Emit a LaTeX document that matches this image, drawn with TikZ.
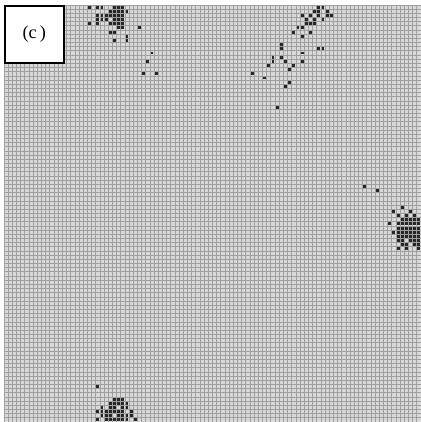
\documentclass[tikz,border=0pt]{standalone}
\usepackage{fontspec}
\setmainfont{Liberation Serif}

\begin{document}
\begin{tikzpicture}[x=1.0425mm, y=-1.0425mm,
    gridline/.style={gray!75, line width=0.55pt},
    alive/.style={fill=black!85},
    labelbox/.style={draw=black, line width=1.3pt, fill=white, minimum width=14.7mm,
      minimum height=14.3mm, font=\fontsize{13}{15}\selectfont}]
    \useasboundingbox (-0.96,-1.2) rectangle (100,100);
    % lattice
    \fill[gray!30] (0,0) rectangle (100,100);
    \foreach \i in {0,...,100} {
      \draw[gridline] (\i,0) -- (\i,100);
      \draw[gridline] (0,\i) -- (100,\i);
    }
    % cluster top left
    \foreach \c/\r in {20/0,22/0,23/0,26/0,27/0,28/0,
      25/1,26/1,27/1,28/1,29/1,
      22/2,23/2,24/2,25/2,26/2,27/2,28/2,
      22/3,23/3,24/3,26/3,27/3,28/3,
      20/4,22/4,25/4,26/4,27/4,28/4,
      27/5,28/5,32/5,25/6,26/6,29/7,26/8,29/8,
      35/11,34/13,33/16,36/16}
      \fill[alive] (\c+0.15,\r+0.15) rectangle (\c+0.85,\r+0.85);
    % cluster top right
    \foreach \c/\r in {75/0,76/0,74/1,75/1,77/1,
      71/2,73/2,75/2,77/2,78/2,72/3,74/3,76/3,72/4,73/4,74/4,
      70/5,71/5,69/6,73/6,71/7,66/9,66/10,75/10,76/10,71/11,
      64/12,66/12,64/13,67/13,71/13,63/14,69/14,68/15,
      59/16,62/17,68/18,67/19,65/24}
      \fill[alive] (\c+0.15,\r+0.15) rectangle (\c+0.85,\r+0.85);
    % cluster right
    \foreach \c/\r in {86/43,89/44,95/48,93/49,97/49,94/50,96/50,98/50,
      95/51,96/51,97/51,98/51,99/51,
      92/52,94/52,95/52,96/52,97/52,98/52,99/52,
      94/53,95/53,96/53,97/53,98/53,99/53,
      93/54,94/54,95/54,96/54,97/54,98/54,99/54,
      94/55,95/55,96/55,97/55,98/55,99/55,
      94/56,95/56,97/56,98/56,99/56,
      95/57,96/57,98/57,99/57,94/58,96/58,99/58}
      \fill[alive] (\c+0.15,\r+0.15) rectangle (\c+0.85,\r+0.85);
    % cluster bottom
    \foreach \c/\r in {22/91,26/94,27/94,28/94,
      25/95,26/95,27/95,28/95,29/95,
      23/96,25/96,26/96,28/96,29/96,
      22/97,23/97,24/97,25/97,26/97,27/97,28/97,30/97,
      23/98,24/98,25/98,27/98,28/98,29/98,30/98,
      22/99,24/99,25/99,26/99,27/99,28/99,29/99,31/99}
      \fill[alive] (\c+0.15,\r+0.15) rectangle (\c+0.85,\r+0.85);
    % panel tag
    \node[labelbox, anchor=north west] (tag) at (0,0) {(c\,)};
\end{tikzpicture}
\end{document}
